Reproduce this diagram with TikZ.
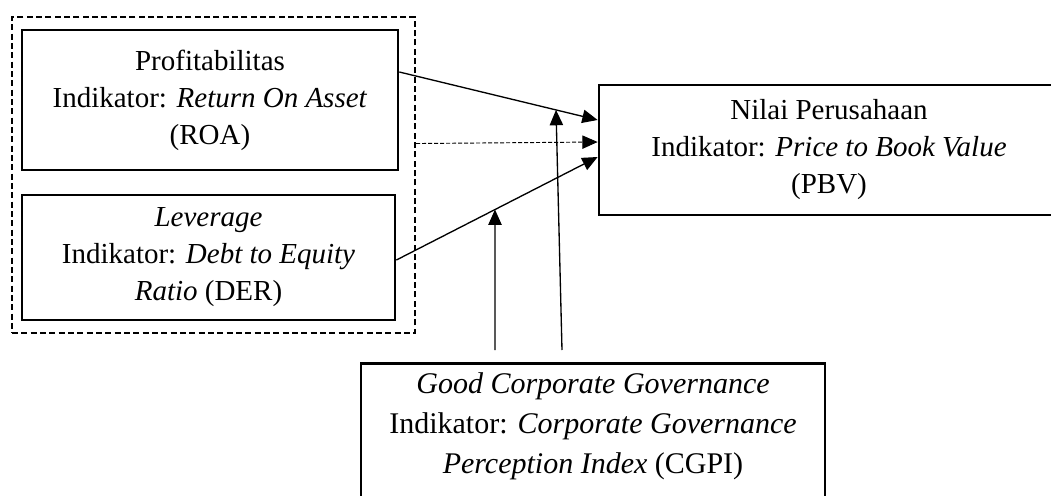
\documentclass[tikz,border=0pt]{standalone}
\usepackage{fontspec}
\setmainfont{Liberation Serif}
\usetikzlibrary{arrows.meta,positioning}
\tikzset{
    varbox/.style ={
        shape=rectangle,
        draw=black,
        line width=2pt,
        align=center,
        font=\fontsize{21.75}{27.75}\selectfont
    },
    groupbox/.style ={
        shape=rectangle,
        draw=black,
        line width=1.7pt,
        dash pattern=on 4.5pt off 2.5pt
    },
    link/.style ={
        line width=1pt,
        -{Triangle[length=11.5pt,width=10pt]}
    }
}

\begin{document}
\begin{tikzpicture}[x=0.75pt,y=-0.75pt]
    \useasboundingbox (0,0) rectangle (1051,496);
    \clip (0,0) rectangle (1051,496);
    % independent variables
    \node[groupbox, minimum width=302.25pt, minimum height=237pt] (group) at (213.5,175) {};
    \node[varbox, minimum width=282pt, minimum height=105pt] (profit) at (210,100)
        {Profitabilitas\\Indikator: \textit{Return On Asset}\\(ROA)};
    \node[varbox, minimum width=279.75pt, minimum height=93.75pt] (leverage) at (208.5,257.5)
        {\textit{Leverage}\\Indikator: \textit{Debt to Equity}\\\textit{Ratio} (DER)};
    % dependent variable
    \node[varbox, minimum width=345pt, minimum height=97.5pt] (nilai) at (829,150)
        {Nilai Perusahaan\\Indikator: \textit{Price to Book Value}\\(PBV)};
    % moderating variable
    \node[varbox, anchor=north, minimum width=348pt, minimum height=150pt] (cgpi) at (593,362) {};
    \node[below=8pt of cgpi.north, align=center, inner sep=0pt,
          font=\fontsize{22.5}{30}\selectfont] (cgpitext)
        {\textit{Good Corporate Governance}\\Indikator: \textit{Corporate Governance}\\\textit{Perception Index} (CGPI)};
    \coordinate (gcg1) at (495,350);
    \coordinate (gcg2) at (562,350);

    \draw[link] ([yshift=21pt]profit.east) -- coordinate[pos=0.79] (hit1) ([yshift=22.5pt]nilai.west);
    \draw[link, line width=0.7pt, dash pattern=on 3pt off 1.5pt] ([yshift=23.6pt]group.east) -- ([yshift=6pt]nilai.west);
    \draw[link] ([yshift=-1.9pt]leverage.east) -- coordinate[pos=0.49] (hit2) ([yshift=-5.25pt]nilai.west);
    \draw[link] (gcg1) -- (hit2);
    \draw[link] (gcg2) -- (hit1);
\end{tikzpicture}
\end{document}
